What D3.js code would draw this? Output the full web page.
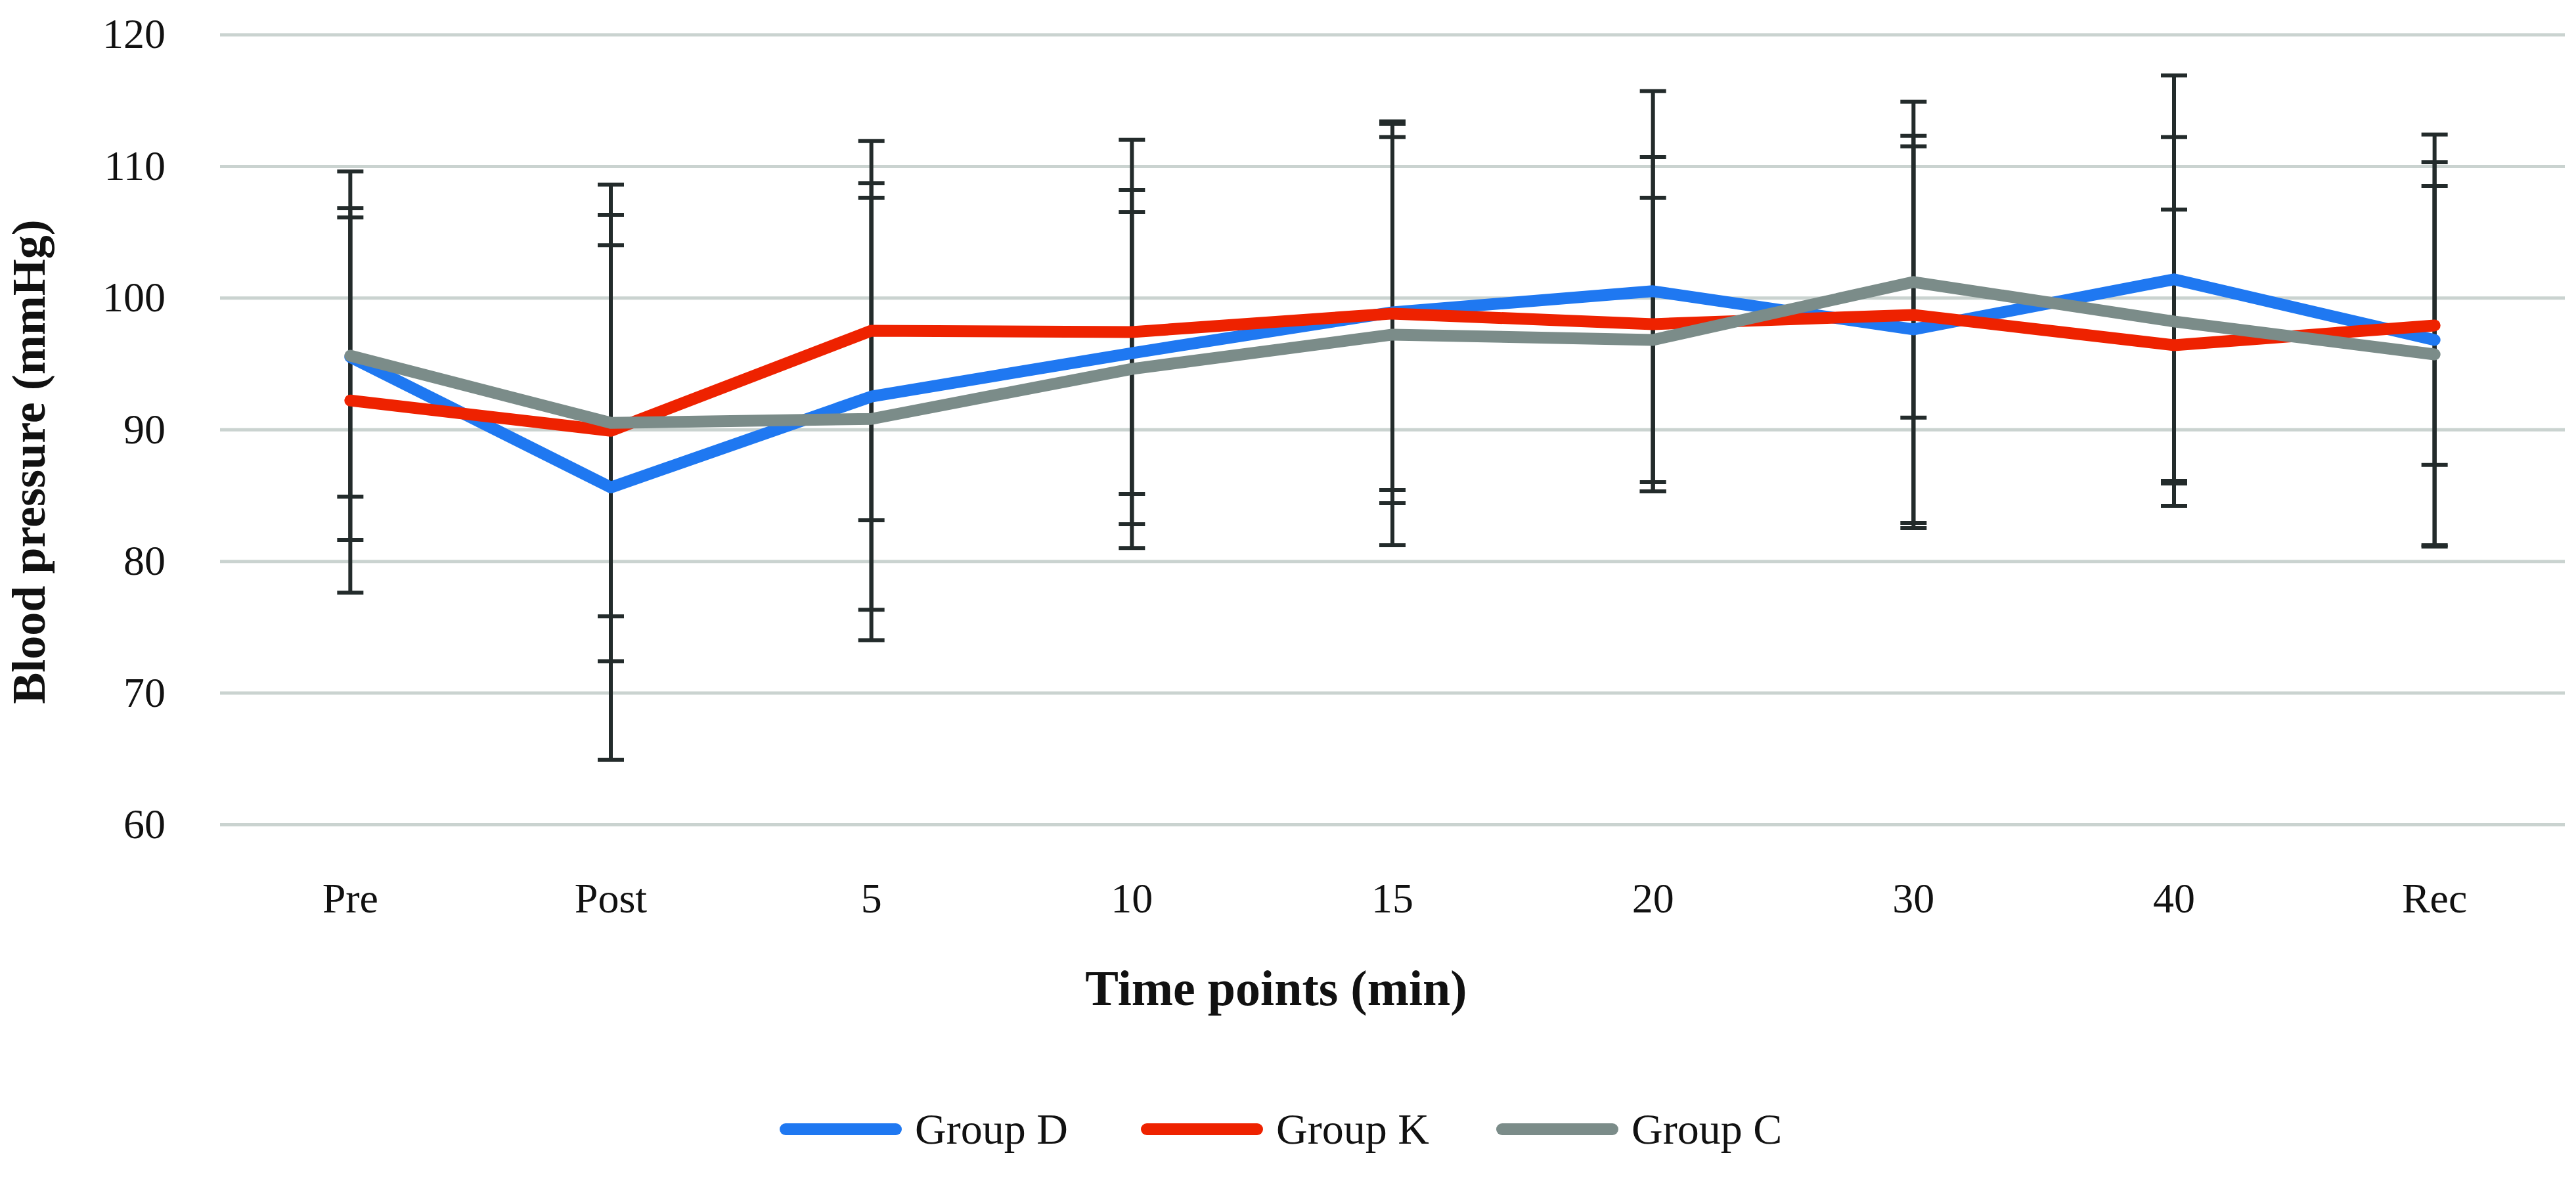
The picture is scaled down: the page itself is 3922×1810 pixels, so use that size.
<!DOCTYPE html>
<html><head><meta charset="utf-8">
<script src="https://cdn.jsdelivr.net/npm/d3@7/dist/d3.min.js"></script>
<style>html,body{margin:0;padding:0;background:#fff;overflow:hidden}</style>
</head><body>
<script>
const categories = ["Pre", "Post", "5", "10", "15", "20", "30", "40", "Rec"];
const seriesNames = ["Group D", "Group K", "Group C"];
const groupDMean = [95.5, 85.6, 92.5, 95.8, 98.9, 100.5, 97.6, 101.4, 96.8];
const groupDSD   = [10.6, 20.7, 16.2, 10.7, 14.5, 15.2, 14.7, 15.5, 15.6];
const groupKMean = [92.2, 89.9, 97.5, 97.4, 98.8, 98.0, 98.7, 96.4, 97.9];
const groupKSD   = [14.6, 14.1, 14.4, 14.6, 13.4, 12.7, 16.2, 10.3, 10.6];
const groupCMean = [95.6, 90.5, 90.8, 94.6, 97.2, 96.8, 101.2, 98.2, 95.7];
const groupCSD   = [14.0, 18.1, 16.8, 13.6, 16.0, 10.8, 10.3, 14.0, 14.6];
const yTicks = [60, 70, 80, 90, 100, 110, 120];
const xTitle = "Time points (min)";
const yTitle = "Blood pressure (mmHg)";

(function () {
const colors = ["#1f78f1", "#ee2200", "#7b8c89"];
const series = [
  {name: seriesNames[0], mean: groupDMean, sd: groupDSD, color: colors[0]},
  {name: seriesNames[1], mean: groupKMean, sd: groupKSD, color: colors[1]},
  {name: seriesNames[2], mean: groupCMean, sd: groupCSD, color: colors[2]}
];

const W = 3922, H = 1810;
const pLeft = 335, pRight = 3905, pTop = 52.5, pBottom = 1255;
const serif = "'Liberation Serif', 'Times New Roman', serif";

const svg = d3.select("body").append("svg").attr("width", W).attr("height", H)
  .style("display", "block");

const x = d3.scaleBand().domain(categories).range([pLeft, pRight]).padding(0);
const cx = c => x(c) + x.bandwidth() / 2;
const y = d3.scaleLinear().domain([60, 120]).range([pBottom, pTop]);

// Y axis with gridlines
const yAxis = svg.append("g").attr("transform", `translate(${pLeft},0)`)
  .call(d3.axisLeft(y).tickValues(yTicks).tickSizeInner(-(pRight - pLeft)).tickSizeOuter(0).tickPadding(83));
yAxis.select(".domain").remove();
yAxis.selectAll(".tick line").attr("stroke", "#cad3d0").attr("stroke-width", 5);
yAxis.selectAll(".tick text").attr("font-family", serif).attr("font-size", 64).attr("fill", "#111");

// X axis labels
const xAxis = svg.append("g").attr("transform", `translate(0,${pBottom})`)
  .call(d3.axisBottom(x).tickSize(0).tickPadding(89));
xAxis.select(".domain").remove();
xAxis.selectAll(".tick text").attr("font-family", serif).attr("font-size", 64).attr("fill", "#111");

// Error bars
const capHalf = 20;
series.forEach(s => {
  const g = svg.append("g");
  categories.forEach((c, i) => {
    const hi = s.mean[i] + s.sd[i], lo = s.mean[i] - s.sd[i];
    const px = cx(c);
    g.append("line").attr("x1", px).attr("x2", px).attr("y1", y(hi)).attr("y2", y(lo))
      .attr("stroke", "#232b2b").attr("stroke-width", 6);
    [hi, lo].forEach(v => {
      g.append("line").attr("x1", px - capHalf).attr("x2", px + capHalf)
        .attr("y1", y(v)).attr("y2", y(v))
        .attr("stroke", "#232b2b").attr("stroke-width", 6);
    });
  });
});

// Lines
const line = d3.line().x((d, i) => cx(categories[i])).y(d => y(d));
series.forEach(s => {
  svg.append("path").datum(s.mean).attr("d", line)
    .attr("fill", "none").attr("stroke", s.color).attr("stroke-width", 18)
    .attr("stroke-linejoin", "round").attr("stroke-linecap", "round");
});

// Axis titles
svg.append("text").attr("x", 1943).attr("y", 1530)
  .attr("text-anchor", "middle").attr("font-family", serif).attr("font-weight", "bold")
  .attr("font-size", 76).attr("fill", "#111").text(xTitle);
svg.append("text").attr("transform", `translate(68,703) rotate(-90)`)
  .attr("text-anchor", "middle").attr("font-family", serif).attr("font-weight", "bold")
  .attr("font-size", 72).attr("fill", "#111").text(yTitle);

// Legend
const legendX = [1187, 1737, 2278];
const legendY = 1719;
series.forEach((s, i) => {
  svg.append("line").attr("x1", legendX[i] + 9).attr("x2", legendX[i] + 177)
    .attr("y1", legendY).attr("y2", legendY)
    .attr("stroke", s.color).attr("stroke-width", 18).attr("stroke-linecap", "round");
  svg.append("text").attr("x", legendX[i] + 206).attr("y", legendY + 22)
    .attr("font-family", serif).attr("font-size", 66).attr("fill", "#111").text(s.name);
});
})();
</script>
</body></html>
